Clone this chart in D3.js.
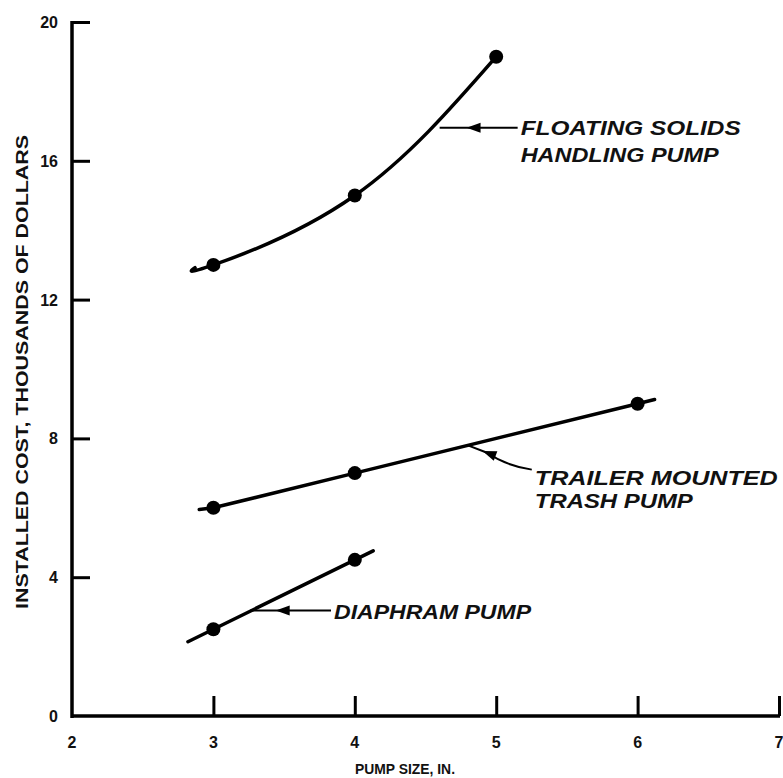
<!DOCTYPE html>
<html><head><meta charset="utf-8">
<script src="https://cdn.jsdelivr.net/npm/d3@7"></script>
<style>
body{margin:0;background:#fff;}
text{font-family:"Liberation Sans","Arial",sans-serif;font-weight:bold;fill:#111;}
</style></head><body>
<svg id="c" width="783" height="778"></svg>
<script>
// ---- data ----
const xTicks = [2, 3, 4, 5, 6, 7];
const yTicks = [0, 4, 8, 12, 16, 20];
const yTickLabels = ["0", "4", "8", "12", "16", "20"];
const floatingSizes = [3, 4, 5];
const floatingCost = [13.0, 15.0, 19.0];
const trailerSizes = [3, 4, 6];
const trailerCost = [6.0, 7.0, 9.0];
const diaphramSizes = [3, 4];
const diaphramCost = [2.5, 4.5];
// line extents (pump size range drawn for each curve)
const floatingRange = [2.87, 5];
const trailerRange = [2.9, 6.12];
const diaphramRange = [2.82, 4.13];
const labels = [
  {lines: ["FLOATING SOLIDS", "HANDLING PUMP"], widths: [220, 198], at: [5.18, 16.95], tip: [4.6, 16.95], head: [4.83, 16.95], gap: 27, dy: 7},
  {lines: ["TRAILER MOUNTED", "TRASH PUMP"], widths: [243, 158], at: [5.28, 7.1], tip: [4.8, 7.8], head: [4.94, 7.58], gap: 23, dy: 15},
  {lines: ["DIAPHRAM PUMP"], widths: [197], at: [3.86, 3.04], tip: [3.26, 3.04], head: [3.48, 3.04], gap: 0, dy: 8}
];

const svg = d3.select("#c");
const x = d3.scaleLinear().domain([2, 7]).range([72, 779]);
const y = d3.scaleLinear().domain([0, 20]).range([716, 22]);

// axes
const axisG = svg.append("g");
axisG.append("line").attr("x1", x(2)).attr("x2", x(2)).attr("y1", y(20) - 1).attr("y2", y(0) + 2)
  .attr("stroke", "#000").attr("stroke-width", 3.5);
axisG.append("line").attr("x1", x(2) - 1).attr("x2", x(7) + 1).attr("y1", y(0)).attr("y2", y(0))
  .attr("stroke", "#000").attr("stroke-width", 3.5);

const yAxis = d3.axisRight(y).tickValues(yTicks.slice(1)).tickSize(18).tickFormat("");
svg.append("g").attr("transform", `translate(${x(2)},0)`).call(yAxis)
  .call(g => g.select(".domain").remove())
  .call(g => g.selectAll(".tick line").attr("stroke", "#000").attr("stroke-width", 3));
yTicks.forEach((v, i) => {
  svg.append("text").attr("x", x(2) - 14).attr("y", y(v) + 6).attr("text-anchor", "end")
    .attr("font-size", 16).text(yTickLabels[i]);
});

const xAxis = d3.axisTop(x).tickValues(xTicks.slice(1)).tickSize(20).tickFormat("");
svg.append("g").attr("transform", `translate(0,${y(0)})`).call(xAxis)
  .call(g => g.select(".domain").remove())
  .call(g => g.selectAll(".tick line").attr("stroke", "#000").attr("stroke-width", 3));
xTicks.forEach(v => {
  svg.append("text").attr("x", x(v)).attr("y", y(0) + 32).attr("text-anchor", "middle")
    .attr("font-size", 16).text(v);
});

svg.append("text").attr("x", 405).attr("y", 774).attr("text-anchor", "middle")
  .attr("font-size", 14).attr("textLength", 100).attr("lengthAdjust", "spacingAndGlyphs").text("PUMP SIZE, IN.");
svg.append("text").attr("transform", "translate(28,372) rotate(-90)").attr("text-anchor", "middle")
  .attr("font-size", 17).attr("textLength", 474).attr("lengthAdjust", "spacingAndGlyphs")
  .text("INSTALLED COST, THOUSANDS OF DOLLARS");

// series
function extend(sizes, costs, range) {
  const pts = sizes.map((s, i) => [s, costs[i]]);
  const n = pts.length;
  const first = pts[0], second = pts[1];
  const last = pts[n - 1], prev = pts[n - 2];
  const out = pts.slice();
  if (range[0] < first[0]) {
    const m = (second[1] - first[1]) / (second[0] - first[0]);
    out.unshift([range[0], first[1] + m * (range[0] - first[0]) * 0.5 * (n > 2 ? 1 : 2)]);
  }
  if (range[1] > last[0]) {
    const m = (last[1] - prev[1]) / (last[0] - prev[0]);
    out.push([range[1], last[1] + m * (range[1] - last[0])]);
  }
  return out;
}
const series = [
  {sizes: floatingSizes, cost: floatingCost, range: floatingRange, curve: d3.curveNatural},
  {sizes: trailerSizes, cost: trailerCost, range: trailerRange, curve: d3.curveLinear},
  {sizes: diaphramSizes, cost: diaphramCost, range: diaphramRange, curve: d3.curveLinear}
];
series.forEach(s => {
  let pts;
  if (s.curve === d3.curveNatural) {
    pts = s.sizes.map((v, i) => [v, s.cost[i]]);
    pts.unshift([s.range[0], s.cost[0] - 0.08]);
  } else {
    pts = extend(s.sizes, s.cost, s.range);
  }
  const line = d3.line().x(d => x(d[0])).y(d => y(d[1])).curve(s.curve);
  svg.append("path").attr("d", line(pts)).attr("fill", "none").attr("stroke", "#000")
    .attr("stroke-width", 3.5).attr("stroke-linecap", "round");
  svg.selectAll(null).data(s.sizes).enter().append("circle")
    .attr("cx", d => x(d)).attr("cy", (d, i) => y(s.cost[i])).attr("r", 7).attr("fill", "#000");
});

// annotations
labels.forEach(l => {
  const sx = x(l.at[0]) - 4, sy = y(l.at[1]);
  const tx = x(l.tip[0]), ty = y(l.tip[1]);
  const hx = x(l.head[0]), hy = y(l.head[1]);
  let d;
  if (Math.abs(sy - ty) < 2) d = `M${sx},${sy}L${tx},${ty}`;
  else d = `M${sx},${sy}Q${hx + 18},${sy - 4} ${hx},${hy} L${tx},${ty}`;
  svg.append("path").attr("d", d).attr("fill", "none").attr("stroke", "#000").attr("stroke-width", 2);
  const ang = Math.atan2(ty - hy, tx - hx);
  const L = 14, W = 5;
  const p1 = [hx + Math.cos(ang) * L * 0.4, hy + Math.sin(ang) * L * 0.4];
  const b = [hx - Math.cos(ang) * L * 0.6, hy - Math.sin(ang) * L * 0.6];
  const p2 = [b[0] - Math.sin(ang) * W, b[1] + Math.cos(ang) * W];
  const p3 = [b[0] + Math.sin(ang) * W, b[1] - Math.cos(ang) * W];
  svg.append("path").attr("d", `M${p1}L${p2}L${p3}Z`).attr("fill", "#000");
  l.lines.forEach((t, i) => {
    svg.append("text").attr("x", sx + 3).attr("y", sy + l.dy + i * l.gap)
      .attr("font-size", 20).attr("font-style", "italic")
      .attr("textLength", l.widths[i]).attr("lengthAdjust", "spacingAndGlyphs").text(t);
  });
});
</script></body></html>
